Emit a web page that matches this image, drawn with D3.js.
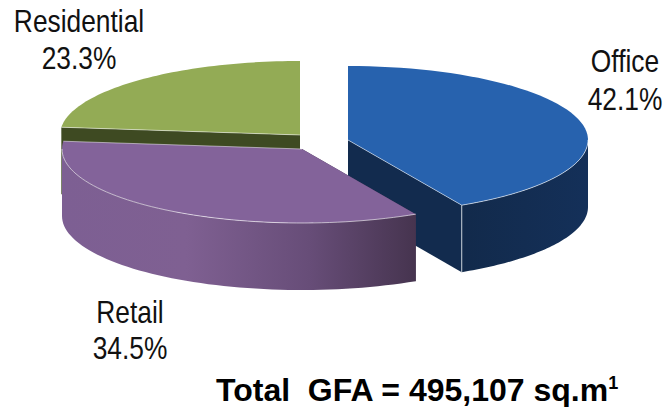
<!DOCTYPE html>
<html>
<head>
<meta charset="utf-8">
<script src="https://cdn.jsdelivr.net/npm/d3@7"></script>
<style>
  html, body { margin: 0; padding: 0; background: #fff; }
  svg { display: block; }
  text { font-family: "Liberation Sans", Arial, sans-serif; fill: #111; }
</style>
</head>
<body>
<svg id="chart"></svg>
<script>
const categories = ["Office", "Retail", "Residential"];
const shares = [42.1, 34.5, 23.3];
const totalLabel = "Total  GFA = 495,107 sq.m";
const totalNote = "1";

const width = 668, height = 407;
const rx = 240, ry = 74, depth = 67;

// exploded slice centres and colours, same order as categories
const centres = [[348, 140], [302, 149], [300, 135]];
const topColors = ["#2762ae", "#83639a", "#93ab55"];
const cutColors = ["#122b4e", "#46344f", "#3e4a22"];
const labelPos = [[625, 72, 110], [130, 323, 359], [79, 32, 69]];

const svg = d3.select("#chart").attr("width", width).attr("height", height);

const defs = svg.append("defs");
const wallFill = [
    [["0%", "#122a4b"], ["100%", "#143059"]],
    [["0%", "#7d5f93"], ["35%", "#7f6092"], ["70%", "#674d78"], ["100%", "#46344f"]],
    [["0%", "#3e4a22"], ["100%", "#3e4a22"]]
];
wallFill.forEach((stops, i) => {
    const g = defs.append("linearGradient").attr("id", "wall" + i);
    stops.forEach(s => g.append("stop").attr("offset", s[0]).attr("stop-color", s[1]));
});

const pie = d3.pie().sort(null)(shares);

// angle measured clockwise from the top of the ellipse
const px = (i, a) => centres[i][0] + rx * Math.sin(a);
const py = (i, a) => centres[i][1] - ry * Math.cos(a);
const rimPoints = (i, a0, a1) =>
    d3.range(0, 61).map(k => {
        const a = a0 + (a1 - a0) * k / 60;
        return [px(i, a), py(i, a)];
    });
const line = d3.line();

function drawSlice(i) {
    const a0 = pie[i].startAngle, a1 = pie[i].endAngle;
    const c = centres[i];
    const g = svg.append("g").attr("class", "slice " + categories[i]);

    // both cut faces, the top face and the wall hide what faces backwards
    [a0, a1].forEach(a => {
        const ex = px(i, a), ey = py(i, a);
        g.append("path")
            .attr("d", line([c, [ex, ey], [ex, ey + depth], [c[0], c[1] + depth]]) + "Z")
            .attr("fill", cutColors[i]);
    });

    // outer wall, only the front half of the ellipse shows
    const w0 = Math.max(a0, Math.PI / 2), w1 = Math.min(a1, 3 * Math.PI / 2);
    if (w1 > w0) {
        const rim = rimPoints(i, w0, w1);
        const low = rim.slice().reverse().map(p => [p[0], p[1] + depth]);
        g.append("path")
            .attr("d", line(rim.concat(low)) + "Z")
            .attr("fill", "url(#wall" + i + ")");
    }

    // top face
    g.append("path")
        .attr("d", line([c].concat(rimPoints(i, a0, a1))) + "Z")
        .attr("fill", topColors[i]);

    // pale highlight on the straight and front edges of the top face
    const edge = a => g.append("path")
        .attr("d", line([c, [px(i, a), py(i, a)]]))
        .attr("fill", "none")
        .attr("stroke", "#fff")
        .attr("stroke-opacity", 0.5)
        .attr("stroke-width", 1);
    if (i === 0) edge(a1);
    if (i === 1) edge(a1);
    if (i === 2) edge(a0);
    if (w1 > w0) {
        g.append("path")
            .attr("d", line(rimPoints(i, w0, w1)))
            .attr("fill", "none")
            .attr("stroke", "#fff")
            .attr("stroke-opacity", 0.6)
            .attr("stroke-width", 1);
    }
    return g;
}

drawSlice(2);
drawSlice(0);
// seam on the front corner of the office slice
const oa = pie[0].endAngle;
svg.append("line")
    .attr("x1", px(0, oa)).attr("x2", px(0, oa))
    .attr("y1", py(0, oa)).attr("y2", py(0, oa) + depth)
    .attr("stroke", "#c4ccd6").attr("stroke-width", 1);
drawSlice(1);

// labels are squeezed horizontally in the original
const addLabel = (x, y, str) => svg.append("text")
    .attr("transform", `translate(${x},${y}) scale(0.85,1)`)
    .attr("text-anchor", "middle")
    .style("font-size", "31px")
    .text(str);

categories.forEach((name, i) => {
    const p = labelPos[i];
    addLabel(p[0], p[1], name);
    addLabel(p[0], p[2], shares[i].toFixed(1) + "%");
});

const total = svg.append("text").attr("x", 216).attr("y", 401)
    .style("white-space", "pre")
    .style("font-size", "32px").style("font-weight", "bold").style("fill", "#000");
total.append("tspan").text(totalLabel);
total.append("tspan").attr("dy", -12).style("font-size", "18px").text(totalNote);
</script>
</body>
</html>
